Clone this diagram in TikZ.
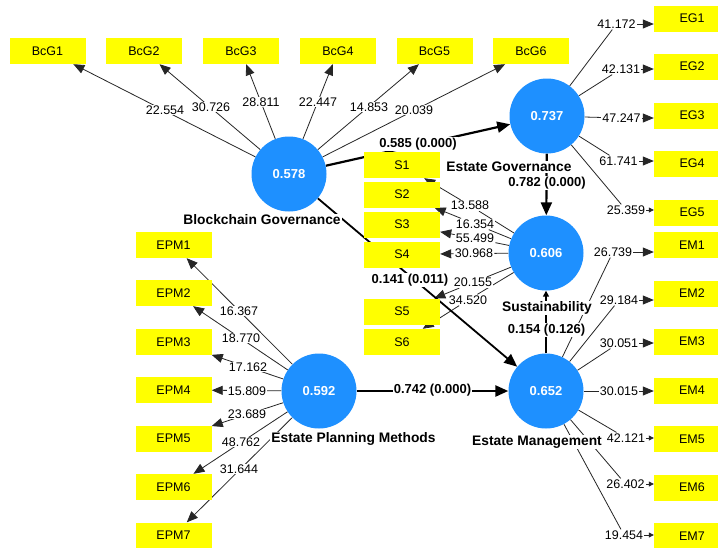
\documentclass[tikz,border=0pt]{standalone}
\usepackage{fontspec}
\setmainfont{Liberation Sans}
\usetikzlibrary{arrows.meta}
\pgfdeclarelayer{bg}
\pgfsetlayers{bg,main}
\definecolor{lvblue}{RGB}{30,144,255}
\definecolor{indyellow}{RGB}{255,255,0}
\begin{document}
\begin{tikzpicture}[x=1pt,y=-1pt,
  lv/.style={circle,fill=lvblue,minimum size=75pt,inner sep=0pt,text=white,font=\fontsize{13}{15}\selectfont\bfseries},
  ind/.style={fill=indyellow,minimum width=76pt,minimum height=26pt,inner sep=0pt,font=\fontsize{12.5}{14}\selectfont},
  wt/.style={fill=white,inner sep=1pt,font=\fontsize{12.5}{14}\selectfont},
  pc/.style={fill=white,inner sep=1pt,font=\fontsize{13}{15}\selectfont\bfseries},
  lvname/.style={fill=white,inner sep=1pt,font=\fontsize{13.8}{16}\selectfont\bfseries},
  ln/.style={line width=0.8pt,draw=black!85},
  la/.style={ln,-{Triangle[length=11pt,width=9pt]}},
  las/.style={ln,-{Triangle[length=5pt,width=5pt]}},
  pathc/.style={line width=2.2pt,-{Triangle[length=13pt,width=11pt]}},
  paththin/.style={line width=1.8pt,-{Triangle[length=6pt,width=6pt]}},
]
\useasboundingbox (0,0) rectangle (718,547);

% latent variables
\node[lv] (BG)  at (289,174) {0.578};
\node[lv] (EGv) at (547,116) {0.737};
\node[lv] (SU)  at (546,253) {0.606};
\node[lv] (EMv) at (546,391) {0.652};
\node[lv] (EPM) at (319,391) {0.592};

% indicators
\node[ind] (BcG1) at (47.5,51) {BcG1};
\node[ind] (BcG2) at (144,51) {BcG2};
\node[ind] (BcG3) at (241,51) {BcG3};
\node[ind] (BcG4) at (338,51) {BcG4};
\node[ind] (BcG5) at (434.5,51) {BcG5};
\node[ind] (BcG6) at (531,51) {BcG6};

\node[ind] (EG1) at (692,18.5) {EG1};
\node[ind] (EG2) at (692,66.5) {EG2};
\node[ind] (EG3) at (692,115.5) {EG3};
\node[ind] (EG4) at (692,163.5) {EG4};
\node[ind] (EG5) at (692,212.5) {EG5};

\node[ind] (EM1) at (692,245) {EM1};
\node[ind] (EM2) at (692,293.5) {EM2};
\node[ind] (EM3) at (692,341.5) {EM3};
\node[ind] (EM4) at (692,390.5) {EM4};
\node[ind] (EM5) at (692,439) {EM5};
\node[ind] (EM6) at (692,487.5) {EM6};
\node[ind] (EM7) at (692,536) {EM7};

\node[ind] (EPM1) at (173.5,245) {EPM1};
\node[ind] (EPM2) at (173.5,293) {EPM2};
\node[ind] (EPM3) at (173.5,342) {EPM3};
\node[ind] (EPM4) at (173.5,390) {EPM4};
\node[ind] (EPM5) at (173.5,438.5) {EPM5};
\node[ind] (EPM6) at (173.5,487) {EPM6};
\node[ind] (EPM7) at (173.5,535.5) {EPM7};

\node[ind] (S1) at (402,165) {S1};
\node[ind] (S2) at (402,194.5) {S2};
\node[ind] (S3) at (402,224.5) {S3};
\node[ind] (S4) at (402,254.5) {S4};
\node[ind] (S5) at (402,311.5) {S5};
\node[ind] (S6) at (402,342) {S6};

% weights / t-values
\node[wt] (tB1) at (165,110) {22.554};
\node[wt] (tB2) at (211,107) {30.726};
\node[wt] (tB3) at (261,102) {28.811};
\node[wt] (tB4) at (318,102) {22.447};
\node[wt] (tB5) at (369,107) {14.853};
\node[wt] (tB6) at (414,110) {20.039};

\node[wt] (tG1) at (616.5,24) {41.172};
\node[wt] (tG2) at (621,69) {42.131};
\node[wt] (tG3) at (621.5,118) {47.247};
\node[wt] (tG4) at (618.5,161) {61.741};
\node[wt] (tG5) at (626,210) {25.359};

\node[wt] (tM1) at (613,252) {26.739};
\node[wt] (tM2) at (619,300) {29.184};
\node[wt] (tM3) at (619,343) {30.051};
\node[wt] (tM4) at (619,391) {30.015};
\node[wt] (tM5) at (626,438) {42.121};
\node[wt] (tM6) at (625.5,484) {26.402};
\node[wt] (tM7) at (624,535) {19.454};

\node[wt] (tP1) at (239,311) {16.367};
\node[wt] (tP2) at (241,338) {18.770};
\node[wt] (tP3) at (248,367) {17.162};
\node[wt] (tP4) at (247,391) {15.809};
\node[wt] (tP5) at (247,414) {23.689};
\node[wt] (tP6) at (241,442) {48.762};
\node[wt] (tP7) at (239,469) {31.644};

\node[wt] (tS1) at (470,205.5) {13.588};
\node[wt] (tS2) at (475,224) {16.354};
\node[wt] (tS3) at (475,238.5) {55.499};
\node[wt] (tS4) at (474,253.5) {30.968};
\node[wt] (tS5) at (473,282.5) {20.155};
\node[wt] (tS6) at (468,300) {34.520};

% path coefficients
\node[pc] (p1) at (418,144) {0.585 (0.000)};
\node[pc] (p2) at (547,183) {0.782 (0.000)};
\node[pc] (p3) at (410,280) {0.141 (0.011)};
\node[pc] (p4) at (546.5,330) {0.154 (0.126)};
\node[pc] (p5) at (432.5,390) {0.742 (0.000)};

% construct names
\node[lvname] (nBG)  at (262,220) {Blockchain Governance};
\node[lvname] (nEG)  at (509,167) {Estate Governance};
\node[lvname] (nSU)  at (547,308) {Sustainability};
\node[lvname] (nEM)  at (537,442) {Estate Management};
\node[lvname] (nEPM) at (353.5,439) {Estate Planning Methods};

\begin{pgfonlayer}{bg}
  \fill[white] (0,0) rectangle (718,547);
  \foreach \i in {1,...,6} \draw[la] (BG) -- (BcG\i);
  \foreach \i in {1,...,7} \draw[la] (EPM) -- (EPM\i);
  \foreach \i in {1,...,5} \draw[ln] (EGv) -- (tG\i);
  \foreach \i in {1,...,4} \draw[la] (tG\i.east) -- (tG\i.east -| EG\i.west);
  \draw[las] (tG5.east) -- (tG5.east -| EG5.west);
  \foreach \i in {1,...,7} \draw[ln] (EMv) -- (tM\i);
  \foreach \i in {1,...,4} \draw[la] (tM\i.east) -- (tM\i.east -| EM\i.west);
  \foreach \i in {5,6,7} \draw[las] (tM\i.east) -- (tM\i.east -| EM\i.west);
  \foreach \i in {1,...,6} {
    \draw[ln] (SU) -- (tS\i);
    \draw[la] (tS\i) -- (S\i);
  }
  \draw[pathc] (BG) -- (EGv);
  \draw[pathc] (EGv) -- (SU);
  \draw[pathc,line width=1.8pt] (BG) -- (EMv);
  \draw[paththin] (EMv) -- (SU);
  \draw[pathc,line width=2.5pt] (EPM) -- (EMv);
\end{pgfonlayer}
\end{tikzpicture}
\end{document}
